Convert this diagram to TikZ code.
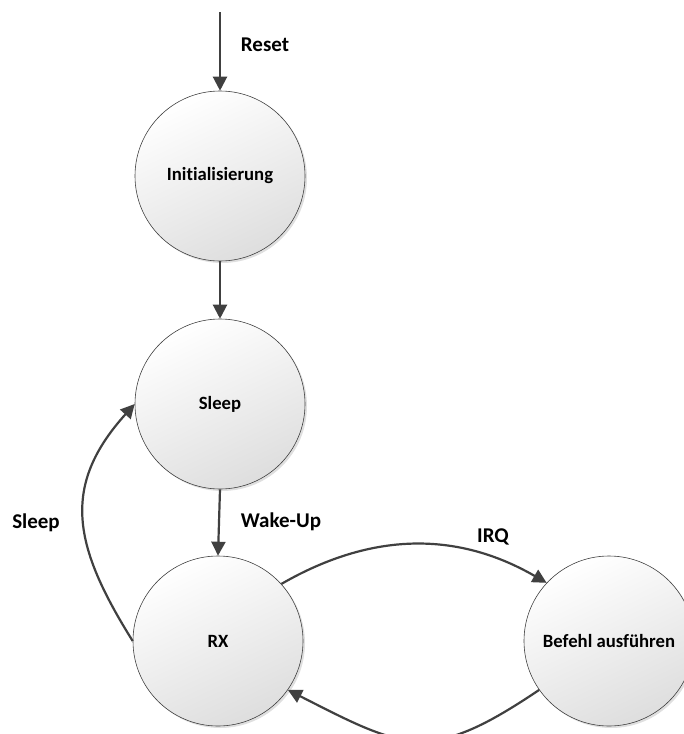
\documentclass[tikz,border=0pt]{standalone}
\usepackage{fontspec}
\setmainfont{Carlito}[Ligatures=NoCommon]
\usetikzlibrary{arrows.meta,shadows}
\definecolor{arr}{HTML}{404040}
\tikzset{
  state/.style={circle, minimum size=170pt, inner sep=0pt, draw=black!75, line width=0.6pt,
    top color=white, bottom color=black!13, shading angle=25,
    drop shadow={opacity=0.25, shadow xshift=2pt, shadow yshift=-2pt},
    font=\fontsize{18.7}{22}\selectfont\bfseries},
  conn/.style={draw=arr, line width=2.2pt, -{Triangle[length=14pt,width=14pt]}},
  lbl/.style={font=\fontsize{21}{25}\selectfont\bfseries, text=black}
}
\begin{document}
\begin{tikzpicture}[x=1pt,y=1pt]
\useasboundingbox (0,0) rectangle (684,-734);
\node[state] (init) at (220,-176) {Initialisierung};
\node[state] (sleep) at (220,-404) {Sleep};
\node[state] (rx) at (218,-641) {RX};
\node[state] (bef) at (609,-641) {Befehl ausführen};
\coordinate (start) at (220,-12);
\draw[conn] (start) -- (init.north);
\draw[conn] (init.south) -- (sleep.north);
\draw[conn] (sleep.south) -- (rx.north);
\draw[conn] (rx.west) to[out=122, in=228, looseness=1.2] (sleep.west);
\draw[conn] (rx.42) to[out=30, in=150] (bef.137);
\draw[conn] (bef.215) to[out=214, in=-27, looseness=1.35] (rx.-35);
\node[lbl] (lreset) at (265,-45) {Reset};
\node[lbl] (lwake) at (281,-522) {Wake-Up};
\node[lbl] (lsleep) at (36,-523) {Sleep};
\node[lbl] (lirq) at (493,-537) {IRQ};
\end{tikzpicture}
\end{document}
